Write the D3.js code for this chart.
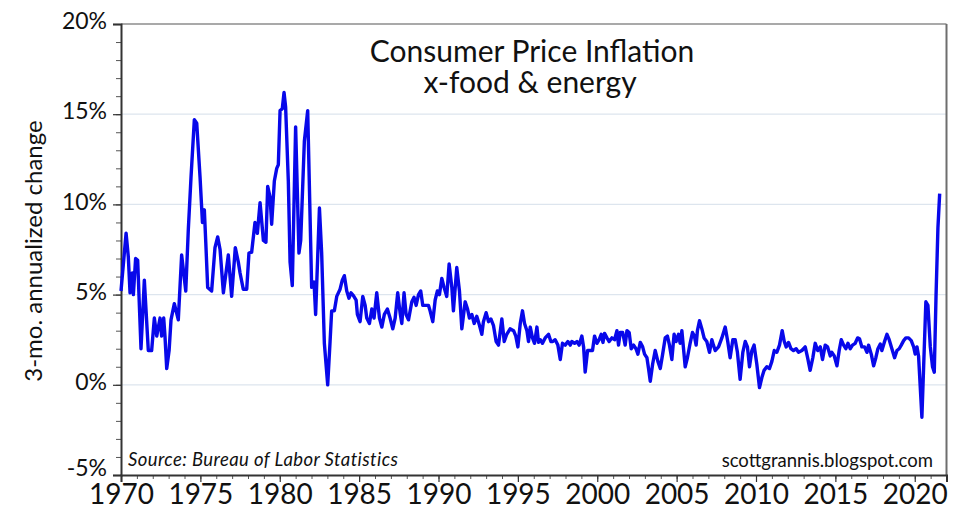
<!DOCTYPE html>
<html>
<head>
<meta charset="utf-8">
<script src="https://cdn.jsdelivr.net/npm/d3@7"></script>
<style>
  body { margin: 0; background: #fff; }
  svg { display: block; }
  text { font-family: Lato, "Open Sans", sans-serif; fill: #111; }
</style>
</head>
<body>
<svg id="chart" width="962" height="509"></svg>
<script>
// core CPI, 3-mo annualized % change (decimal year, value)
let years = [
  1970.0, 1970.32, 1970.46, 1970.57, 1970.71, 1970.78, 1970.92, 1971.05, 1971.26, 1971.47,
  1971.72, 1971.93, 1972.1, 1972.25, 1972.46, 1972.56, 1972.69, 1972.77, 1972.88, 1973.03,
  1973.15, 1973.36, 1973.61, 1973.82, 1974.08, 1974.24, 1974.41, 1974.62, 1974.77, 1974.98,
  1975.13, 1975.25, 1975.34, 1975.46, 1975.71, 1975.92, 1976.09, 1976.24, 1976.45, 1976.76,
  1976.97, 1977.2, 1977.39, 1977.5, 1977.7, 1977.92, 1978.06, 1978.23, 1978.44, 1978.59,
  1978.76, 1978.97, 1979.13, 1979.24, 1979.39, 1979.49, 1979.66, 1979.81, 1979.91, 1980.02,
  1980.16, 1980.27, 1980.37, 1980.54, 1980.65, 1980.79, 1981.0, 1981.21, 1981.32, 1981.55,
  1981.76, 1982.01, 1982.16, 1982.26, 1982.5, 1982.64, 1982.81, 1983.02, 1983.17, 1983.27,
  1983.44, 1983.59, 1983.8, 1983.94, 1984.07, 1984.22, 1984.36, 1984.49, 1984.64, 1984.81,
  1984.89, 1985.06, 1985.23, 1985.38, 1985.48, 1985.65, 1985.8, 1985.94, 1986.11, 1986.28,
  1986.43, 1986.59, 1986.78, 1986.95, 1987.12, 1987.27, 1987.43, 1987.58, 1987.69, 1987.83,
  1987.96, 1988.11, 1988.32, 1988.46, 1988.59, 1988.74, 1988.88, 1989.01, 1989.16, 1989.37,
  1989.47, 1989.64, 1989.79, 1989.93, 1990.06, 1990.21, 1990.35, 1990.52, 1990.67, 1990.84,
  1990.94, 1991.15, 1991.32, 1991.47, 1991.68, 1991.83, 1991.95, 1992.1, 1992.25, 1992.41,
  1992.58, 1992.73, 1992.83, 1993.0, 1993.15, 1993.3, 1993.46, 1993.63, 1993.78, 1993.99,
  1994.14, 1994.3, 1994.51, 1994.73, 1994.87, 1995.0, 1995.15, 1995.29, 1995.42, 1995.57,
  1995.67, 1995.78, 1995.92, 1996.05, 1996.2, 1996.3, 1996.41, 1996.55, 1996.72, 1996.93,
  1997.08, 1997.2, 1997.35, 1997.52, 1997.67, 1997.81, 1997.98, 1998.15, 1998.3, 1998.4,
  1998.57, 1998.72, 1998.86, 1999.03, 1999.14, 1999.24, 1999.39, 1999.56, 1999.7, 1999.83,
  1999.98, 2000.12, 2000.25, 2000.36, 2000.46, 2000.61, 2000.75, 2000.92, 2001.09, 2001.24,
  2001.34, 2001.45, 2001.6, 2001.76, 2001.87, 2002.01, 2002.14, 2002.29, 2002.44, 2002.56,
  2002.71, 2002.86, 2002.98, 2003.13, 2003.23, 2003.34, 2003.49, 2003.65, 2003.82, 2003.97,
  2004.12, 2004.28, 2004.42, 2004.55, 2004.7, 2004.84, 2004.97, 2005.12, 2005.22, 2005.33,
  2005.54, 2005.68, 2005.85, 2006.0, 2006.12, 2006.23, 2006.31, 2006.44, 2006.59, 2006.73,
  2006.9, 2007.07, 2007.22, 2007.32, 2007.43, 2007.64, 2007.85, 2008.06, 2008.22, 2008.37,
  2008.54, 2008.69, 2008.83, 2009.0, 2009.17, 2009.32, 2009.46, 2009.59, 2009.74, 2009.88,
  2010.05, 2010.22, 2010.37, 2010.51, 2010.68, 2010.85, 2011.0, 2011.15, 2011.31, 2011.48,
  2011.65, 2011.78, 2011.9, 2012.05, 2012.2, 2012.36, 2012.53, 2012.68, 2012.89, 2013.1,
  2013.25, 2013.41, 2013.58, 2013.73, 2013.89, 2014.05, 2014.19, 2014.36, 2014.51, 2014.68,
  2014.78, 2014.93, 2015.1, 2015.24, 2015.37, 2015.52, 2015.66, 2015.79, 2015.94, 2016.08,
  2016.25, 2016.4, 2016.52, 2016.67, 2016.84, 2016.99, 2017.09, 2017.26, 2017.41, 2017.55,
  2017.68, 2017.83, 2017.93, 2018.08, 2018.25, 2018.39, 2018.56, 2018.73, 2018.88, 2019.02,
  2019.15, 2019.3, 2019.44, 2019.61, 2019.78, 2019.93, 2020.03, 2020.14, 2020.24, 2020.45,
  2020.56, 2020.7, 2020.83, 2020.98, 2021.12, 2021.23, 2021.34, 2021.46, 2021.57
];
let cpi = [
  5.2, 8.4, 7.1, 5.1, 6.2, 5.0, 7.0, 6.9, 2.0, 5.8,
  1.9, 1.9, 3.7, 2.7, 3.7, 2.7, 3.7, 2.7, 0.9, 1.9,
  3.6, 4.5, 3.6, 7.2, 5.2, 8.6, 11.5, 14.7, 14.5, 11.5,
  9.0, 9.7, 7.9, 5.4, 5.2, 7.6, 8.2, 7.5, 5.1, 7.2,
  4.9, 7.6, 6.8, 6.2, 5.3, 5.3, 7.3, 7.35, 9.0, 8.4,
  10.1, 8.0, 7.9, 11.0, 10.4, 8.9, 11.3, 12.0, 12.2, 15.2,
  15.3, 16.2, 15.4, 11.3, 6.8, 5.5, 14.3, 7.3, 8.0, 13.5,
  15.2, 5.4, 5.7, 3.9, 9.8, 7.3, 2.3, 0.0, 2.4, 4.1,
  4.1, 4.9, 5.3, 5.8, 6.05, 5.2, 4.8, 5.1, 4.95, 4.7,
  3.9, 3.5, 4.9, 4.4, 3.7, 3.4, 4.2, 3.7, 5.1, 3.7,
  3.2, 3.9, 4.2, 3.7, 3.1, 3.7, 5.1, 4.0, 3.4, 5.1,
  3.9, 3.6, 4.6, 4.85, 4.4, 5.0, 5.2, 4.4, 4.4, 4.4,
  4.1, 3.5, 4.7, 5.2, 5.0, 5.9, 5.4, 4.9, 6.7, 5.4,
  4.1, 6.5, 5.2, 3.1, 4.6, 4.2, 3.7, 3.9, 3.4, 3.8,
  3.3, 2.8, 3.5, 4.0, 3.5, 3.65, 3.3, 2.4, 2.2, 3.65,
  2.4, 2.8, 3.1, 3.0, 2.7, 2.1, 3.4, 4.1, 3.4, 3.0,
  2.4, 3.2, 2.6, 2.3, 3.2, 2.35, 2.5, 2.3, 2.6, 2.8,
  2.4, 2.4, 2.5, 2.2, 1.4, 2.3, 2.2, 2.4, 2.2, 2.4,
  2.3, 2.4, 2.2, 2.7, 2.1, 0.7, 1.9, 1.9, 1.9, 2.7,
  2.3, 2.5, 2.8, 2.35, 2.85, 2.6, 2.4, 2.6, 2.5, 3.0,
  2.2, 2.9, 2.9, 2.2, 3.0, 2.9, 2.0, 2.2, 2.0, 1.7,
  2.35, 2.1, 1.7, 1.5, 0.9, 0.2, 1.15, 1.9, 1.3, 0.9,
  1.7, 2.6, 2.7, 2.2, 1.4, 2.8, 2.4, 2.8, 2.3, 3.0,
  1.0, 1.5, 2.3, 2.9, 2.7, 2.2, 3.0, 3.55, 3.1, 2.6,
  2.4, 1.8, 2.5, 2.2, 1.9, 2.1, 2.6, 3.2, 2.4, 1.5,
  2.5, 2.5, 1.8, 0.3, 1.8, 2.4, 2.1, 1.0, 1.9, 2.2,
  1.15, -0.15, 0.4, 0.8, 1.0, 0.9, 1.3, 1.9, 1.8, 2.2,
  3.0, 2.4, 2.1, 2.35, 2.0, 1.9, 2.0, 1.8, 1.9, 2.1,
  1.5, 0.8, 1.5, 2.3, 1.9, 2.1, 1.4, 2.2, 2.1, 1.6,
  1.8, 1.6, 1.05, 1.9, 2.5, 2.2, 2.0, 2.3, 2.0, 2.2,
  2.3, 2.6, 2.55, 2.1, 2.1, 1.8, 2.2, 1.7, 1.05, 1.5,
  2.0, 2.26, 1.9, 2.35, 2.8, 2.5, 2.0, 1.5, 1.9, 2.0,
  2.2, 2.45, 2.6, 2.6, 2.45, 2.1, 1.7, 2.1, 1.6, -1.8,
  1.0, 4.6, 4.4, 2.1, 1.0, 0.7, 4.9, 8.7, 10.6
];
let yMajor = [-5, 0, 5, 10, 15, 20];
let xMajor = [1970, 1975, 1980, 1985, 1990, 1995, 2000, 2005, 2010, 2015, 2020];
let titleLines = ["Consumer Price Inflation", "x-food & energy"];

let data = years.map(function(d, i) { return {year: d, value: cpi[i]}; });

let chart = d3.select("#chart");
let plotLeft = 121, plotRight = 946.5, plotTop = 24, plotBottom = 475;

//x,y scales
let x = d3.scaleLinear().domain([1970, 2022]).range([plotLeft, plotRight]);
let y = d3.scaleLinear().domain([-5, 20]).range([plotBottom, plotTop]);

//light horizontal grid at every 5%
chart.append("g")
    .selectAll("line")
    .data([0, 5, 10, 15])
    .enter()
    .append("line")
        .attr("x1", plotLeft).attr("x2", plotRight)
        .attr("y1", function(d) { return y(d); })
        .attr("y2", function(d) { return y(d); })
        .attr("stroke", "#dde5ee")
        .attr("stroke-width", 1.2);

//frame top + right
chart.append("line").attr("x1", plotLeft).attr("x2", plotRight).attr("y1", plotTop).attr("y2", plotTop)
    .attr("stroke", "#8c8c8c").attr("stroke-width", 1.6);
chart.append("line").attr("x1", plotRight).attr("x2", plotRight).attr("y1", plotTop).attr("y2", plotBottom)
    .attr("stroke", "#6e6e6e").attr("stroke-width", 2);

//minor ticks (1% and 1 year)
chart.append("g")
    .attr("transform", "translate(" + plotLeft + ",0)")
    .call(d3.axisLeft(y).tickValues(d3.range(-5, 21)).tickSize(5).tickFormat(""))
    .call(function(g) { g.select(".domain").remove(); g.selectAll("line").attr("stroke", "#555"); });
chart.append("g")
    .attr("transform", "translate(0," + plotBottom + ")")
    .call(d3.axisBottom(x).tickValues(d3.range(1970, 2023)).tickSize(4).tickFormat(""))
    .call(function(g) { g.select(".domain").remove(); g.selectAll("line").attr("stroke", "#555"); });

//y axis
let yAxis = chart.append("g")
    .attr("transform", "translate(" + plotLeft + ",0)")
    .call(d3.axisLeft(y).tickValues(yMajor).tickSize(8).tickPadding(6)
        .tickFormat(function(d) { return d + "%"; }));
yAxis.select(".domain").attr("stroke", "#333").attr("stroke-width", 2);
yAxis.selectAll("line").attr("stroke", "#333").attr("stroke-width", 1.2);
yAxis.selectAll("text").attr("font-size", "23px").attr("font-family", "Lato").attr("fill", "#111")
    .attr("dy", function(d) { return d == -5 ? "0.02em" : "0.2em"; });

//x axis
let xAxis = chart.append("g")
    .attr("transform", "translate(0," + plotBottom + ")")
    .call(d3.axisBottom(x).tickValues(xMajor).tickSize(7).tickPadding(1).tickFormat(d3.format("d")));
xAxis.select(".domain").attr("stroke", "#333").attr("stroke-width", 2);
xAxis.selectAll("line").attr("stroke", "#333").attr("stroke-width", 1.2);
xAxis.selectAll("text").attr("font-size", "28px").attr("font-family", "Lato").attr("fill", "#111")
    .attr("dy", "0.74em");

//axis title
chart.append("text")
    .attr("text-anchor", "middle")
    .attr("font-size", "24px")
    .attr("transform", "translate(42,251) rotate(-90)")
    .text("3-mo. annualized change");

//chart title, two lines in one text
let title = chart.append("text")
    .attr("text-anchor", "middle")
    .attr("font-size", "30px")
    .attr("y", 62);
title.selectAll("tspan")
    .data(titleLines)
    .enter()
    .append("tspan")
        .attr("x", function(d, i) { return i == 0 ? 532 : 530; })
        .attr("dy", function(d, i) { return i == 0 ? 0 : 31; })
        .text(function(d) { return d; });

//notes
chart.append("text")
    .attr("font-size", "18.5px")
    .attr("font-style", "italic")
    .attr("letter-spacing", "0.4px")
    .attr("x", 128)
    .attr("y", 466)
    .text("Source: Bureau of Labor Statistics");
chart.append("text")
    .attr("text-anchor", "end")
    .attr("font-size", "18.5px")
    .attr("x", 933)
    .attr("y", 467)
    .text("scottgrannis.blogspot.com");

//the line
let line = d3.line()
    .x(function(d) { return x(d.year); })
    .y(function(d) { return y(d.value); });

chart.append("path")
    .datum(data)
    .attr("d", line)
    .attr("fill", "none")
    .attr("stroke", "#0808ea")
    .attr("stroke-width", 3.4)
    .attr("stroke-linejoin", "round");
</script>
</body>
</html>
